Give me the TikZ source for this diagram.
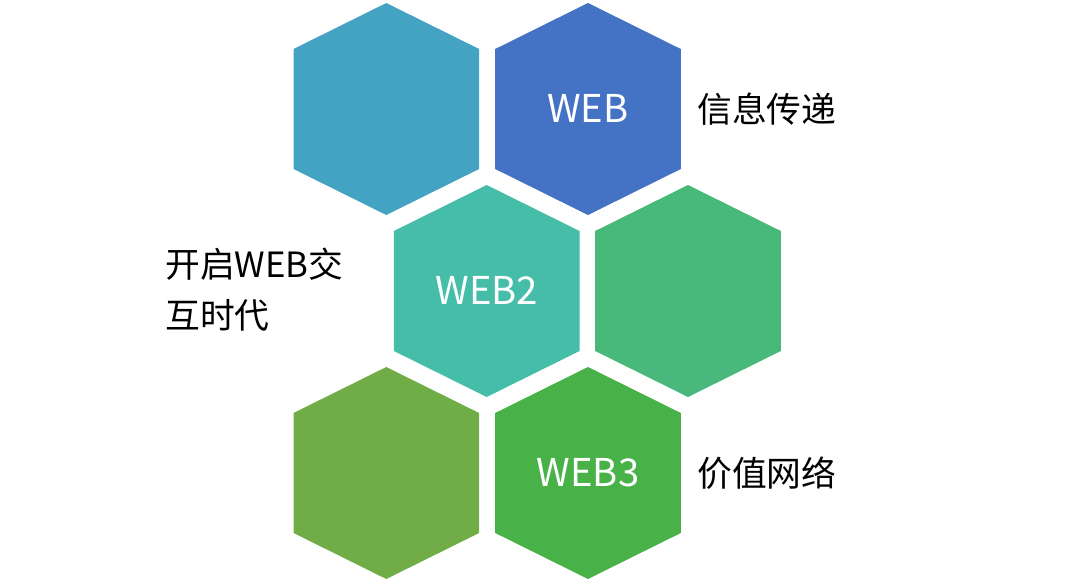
\documentclass[tikz,border=0pt]{standalone}
\usepackage{fontspec}
\setmainfont{Noto Sans CJK SC}
\definecolor{hexblue}{HTML}{44A3C2}
\definecolor{hexroyal}{HTML}{4472C4}
\definecolor{hexteal}{HTML}{45BDA8}
\definecolor{hexmint}{HTML}{48B97A}
\definecolor{hexolive}{HTML}{70AD47}
\definecolor{hexgreen}{HTML}{48B248}
\def\hexw{92.8}
\def\hext{46}
\def\hexs{120}
\def\hexh{106}
\tikzset{
  hexlabel/.style={text=white,inner sep=0pt,font=\fontsize{21.8pt}{26pt}\selectfont},
  sidelabel/.style={text=black,inner sep=0pt,align=left,font=\fontsize{19.8pt}{28.9pt}\selectfont}
}
\newcommand\hexfill[3]{%
  \fill[#1] (#2,#3) ++(0,-\hexh) -- ++(\hexw,\hext) -- ++(0,\hexs) -- ++(-\hexw,\hext)
    -- ++(-\hexw,-\hext) -- ++(0,-\hexs) -- cycle;}
\begin{document}
\begin{tikzpicture}[x=0.02cm,y=-0.02cm]
        \useasboundingbox (0,0) rectangle (1080,582);
        % hexagons
        \hexfill{hexblue}{386.3}{109}
        \hexfill{hexroyal}{588}{109}
        \hexfill{hexteal}{486.7}{291}
        \hexfill{hexmint}{688}{291}
        \hexfill{hexolive}{386.3}{473}
        \hexfill{hexgreen}{588}{473}
        % texts
        \node[hexlabel] (web1) at (588,108) {WEB};
        \node[hexlabel] (web2) at (486.7,290) {WEB2};
        \node[hexlabel] (web3) at (588,473) {WEB3};
        \node[sidelabel,anchor=west] (info) at (697,109) {信息传递};
        \node[sidelabel,anchor=west] (inter) at (165,290) {开启WEB交\\互时代};
        \node[sidelabel,anchor=west] (value) at (697,473) {价值网络};
    \end{tikzpicture}
\end{document}
